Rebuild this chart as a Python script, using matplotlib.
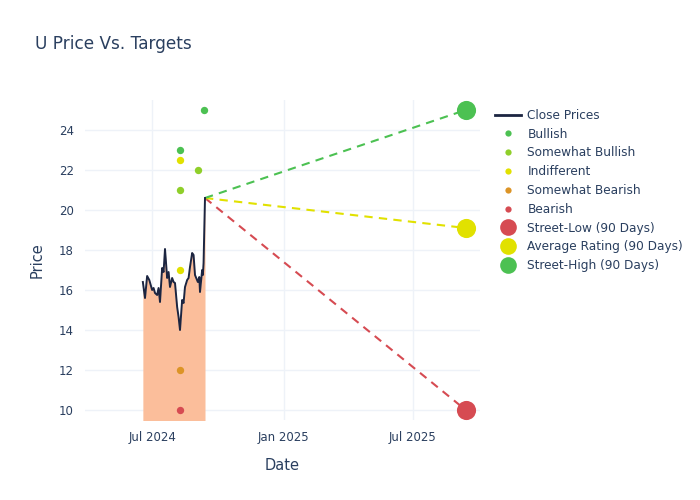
import matplotlib
matplotlib.use('Agg')
import matplotlib.pyplot as plt
import matplotlib.dates as mdates
from matplotlib.lines import Line2D
import pandas as pd

# close prices
close_dates = ['2024-06-18', '2024-06-21', '2024-06-24', '2024-06-27', '2024-07-01',
               '2024-07-03', '2024-07-05', '2024-07-08', '2024-07-10', '2024-07-12',
               '2024-07-15', '2024-07-17', '2024-07-19', '2024-07-22', '2024-07-24',
               '2024-07-26', '2024-07-29', '2024-07-31', '2024-08-02', '2024-08-05',
               '2024-08-07', '2024-08-09', '2024-08-12', '2024-08-14', '2024-08-16',
               '2024-08-19', '2024-08-21', '2024-08-23', '2024-08-26', '2024-08-28',
               '2024-08-30', '2024-09-03', '2024-09-05', '2024-09-06', '2024-09-09',
               '2024-09-10', '2024-09-11', '2024-09-12', '2024-09-13']
close_prices = [16.4, 15.6, 16.7, 16.5, 16.0, 16.1, 15.85, 15.75, 16.1, 15.4,
                17.1, 16.9, 18.05, 16.6, 16.9, 16.15, 16.6, 16.4, 16.35, 15.15,
                14.65, 14.0, 15.5, 15.35, 16.15, 16.5, 16.6, 17.15, 17.85, 17.75,
                16.75, 16.4, 16.65, 15.9, 17.0, 16.75, 17.35, 19.0, 20.6]

# analyst ratings
ratings = {
    'Bullish': (['2024-08-09', '2024-09-12'], [23.0, 25.0]),
    'Somewhat Bullish': (['2024-08-09', '2024-09-03'], [21.0, 22.0]),
    'Indifferent': (['2024-08-09', '2024-08-09'], [22.5, 17.0]),
    'Somewhat Bearish': (['2024-08-09'], [12.0]),
    'Bearish': (['2024-08-09'], [10.0]),
}
rating_colors = {
    'Bullish': '#4cc152',
    'Somewhat Bullish': '#8fcf2a',
    'Indifferent': '#e1e100',
    'Somewhat Bearish': '#dc9426',
    'Bearish': '#d64b52',
}

target_date = '2025-09-13'
target_names = ['Street-Low (90 Days)', 'Average Rating (90 Days)', 'Street-High (90 Days)']
target_values = [10.0, 19.1, 25.0]
target_colors = ['#d64b52', '#e1e100', '#4cc152']

text_col = '#2a3f5f'
grid_col = '#eef2f8'

df = pd.DataFrame({'date': pd.to_datetime(close_dates), 'close': close_prices})

fig = plt.figure(figsize=(7, 5), dpi=100)
ax = fig.add_axes([85 / 700, 80 / 500, 395 / 700, 320 / 500])

ax.fill_between(df['date'], 0, df['close'], color='#fbbe9b', lw=0, zorder=1)
ax.plot(df['date'], df['close'], color='#1c2541', lw=1.4, zorder=3)

last_date = df['date'].iloc[-1]
last_price = df['close'].iloc[-1]
tdate = pd.to_datetime(target_date)
for val, col in zip(target_values, target_colors):
    ax.plot([last_date, tdate], [last_price, val], color=col, lw=1.5,
            ls=(0, (4, 3)), zorder=2)

for name, (dates, vals) in ratings.items():
    ax.scatter(pd.to_datetime(dates), vals, s=28, color=rating_colors[name],
               lw=0, zorder=4)

for val, col in zip(target_values, target_colors):
    ax.scatter([tdate], [val], s=190, color=col, lw=0, zorder=5)

ax.set_xlim(pd.Timestamp('2024-03-29'), pd.Timestamp('2025-10-03'))
ax.set_ylim(9.5, 25.5)
ax.set_yticks([10, 12, 14, 16, 18, 20, 22, 24])
ax.xaxis.set_major_locator(mdates.MonthLocator(bymonth=[1, 7]))
ax.xaxis.set_major_formatter(mdates.DateFormatter('%b %Y'))

ax.grid(True, color=grid_col, lw=1)
ax.set_axisbelow(True)
for s in ax.spines.values():
    s.set_visible(False)
ax.tick_params(length=0, colors=text_col, labelsize=8.5, pad=8)
ax.set_xlabel('Date', color=text_col, fontsize=10.5, labelpad=10)
ax.set_ylabel('Price', color=text_col, fontsize=10.5, labelpad=10)

fig.text(35 / 700, 1 - 44 / 500, 'U Price Vs. Targets', color=text_col,
         fontsize=12.2, va='center', ha='left')

handles = [Line2D([], [], color='#1c2541', lw=2)]
labels = ['Close Prices']
for name in ratings:
    handles.append(Line2D([], [], ls='', marker='o', ms=4.5,
                          mfc=rating_colors[name], mec='none'))
    labels.append(name)
for name, col in zip(target_names, target_colors):
    handles.append(Line2D([], [], ls='', marker='o', ms=12, mfc=col, mec='none'))
    labels.append(name)

leg = fig.legend(handles, labels, loc='upper left', bbox_to_anchor=(490 / 700, 1 - 104 / 500),
                 frameon=False, fontsize=8.7, labelspacing=0.48, handlelength=2.2,
                 handletextpad=0.5, borderaxespad=0)
for t in leg.get_texts():
    t.set_color(text_col)

fig.savefig('out.png', dpi=100)
